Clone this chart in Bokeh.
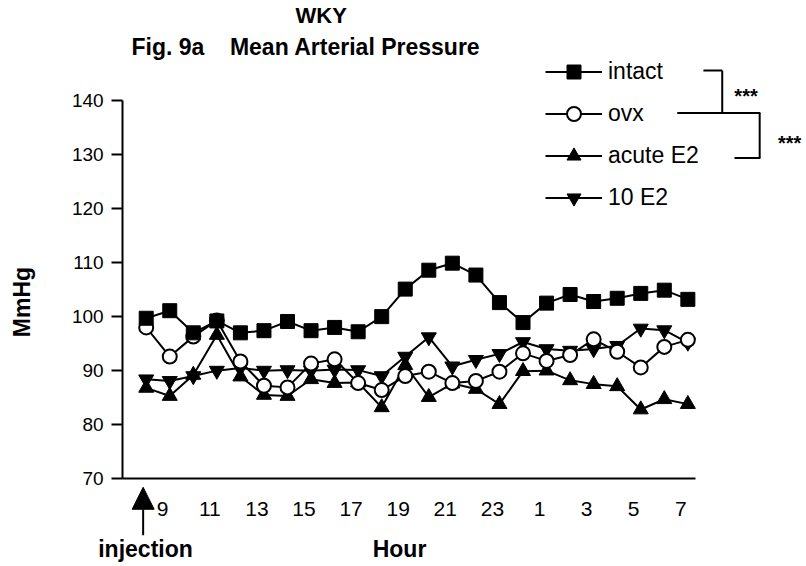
import math
from bokeh.plotting import figure
from bokeh.models import (FixedTicker, Legend, LegendItem, Label, Arrow, NormalHead, Range1d)
from bokeh.embed import file_html
from bokeh.resources import INLINE

# ---- data ----
hours = [8, 9, 10, 11, 12, 13, 14, 15, 16, 17, 18, 19, 20, 21, 22, 23,
         0, 1, 2, 3, 4, 5, 6, 7]
tick_hours = ["9", "11", "13", "15", "17", "19", "21", "23", "1", "3", "5", "7"]
intact = [99.7, 101.1, 97.0, 99.2, 97.0, 97.4, 99.1, 97.4, 98.0, 97.2, 100.0, 105.1,
          108.6, 109.9, 107.7, 102.6, 98.9, 102.5, 104.1, 102.8, 103.4, 104.3, 104.9, 103.2]
ovx = [98.0, 92.6, 96.3, 99.3, 91.7, 87.2, 86.9, 91.3, 92.1, 87.7, 86.4, 89.0,
       89.8, 87.7, 88.1, 89.8, 93.2, 91.8, 92.9, 95.8, 93.5, 90.6, 94.4, 95.7]
acute_e2 = [86.8, 85.3, 89.2, 96.6, 88.9, 85.5, 85.3, 88.4, 87.7, 87.8, 83.2, 91.0,
            85.1, 87.6, 86.6, 83.8, 89.9, 90.0, 88.2, 87.5, 87.1, 82.8, 84.7, 83.8]
ten_e2 = [88.4, 88.1, 89.0, 90.0, 90.5, 90.0, 90.1, 90.0, 90.2, 90.1, 89.0, 92.6,
          96.2, 90.8, 92.0, 93.1, 95.3, 94.0, 93.7, 94.0, 94.6, 97.8, 97.5, 95.2]
y_ticks = [70, 80, 90, 100, 110, 120, 130, 140]

idx = list(range(len(hours)))
FONT = "Liberation Sans"

p = figure(width=806, height=566, output_backend="svg", toolbar_location=None,
           x_range=Range1d(-6.187, 28.038), y_range=Range1d(53.729, 153.544),
           min_border_left=0, min_border_right=0, min_border_top=0, min_border_bottom=0,
           title="WKY")
p.background_fill_color = "white"
p.border_fill_color = "white"
p.outline_line_color = None
p.grid.visible = False

# title
p.title.align = "left"
p.title.offset = 295
p.title.text_font = FONT
p.title.text_font_size = "22px"
p.title.text_font_style = "bold"
p.title.text_color = "black"
p.title.standoff = 0
p.add_layout(Label(x=-0.624, y=150.0, text="Fig. 9a\u00a0\u00a0\u00a0\u00a0Mean Arterial Pressure",
                   text_font=FONT, text_font_size="23px", text_font_style="bold",
                   text_color="black", text_align="left", text_baseline="middle"))

# axes (drawn at fixed data locations so that they cross at (-1, 70))
ax = p.xaxis[0]
ax.fixed_location = 70
ax.ticker = FixedTicker(ticks=[round(i - 0.3, 1) for i in range(1, 24, 2)])
ax.major_label_overrides = {round(i - 0.3, 1): t for i, t in zip(range(1, 24, 2), tick_hours)}
ax.bounds = (-1, 23.32)
ax.axis_line_width = 2
ax.major_tick_line_color = None
ax.minor_tick_line_color = None
ax.major_label_standoff = 17
ax.major_label_text_font = FONT
ax.major_label_text_font_size = "21px"
ax.major_label_text_color = "black"

ay = p.yaxis[0]
ay.fixed_location = -1
ay.ticker = FixedTicker(ticks=y_ticks)
ay.bounds = (70, 140)
ay.axis_line_width = 2
ay.major_tick_line_width = 2
ay.major_tick_out = 11
ay.major_tick_in = 0
ay.minor_tick_line_color = None
ay.major_label_standoff = 8
ay.major_label_text_font = FONT
ay.major_label_text_font_size = "19px"
ay.major_label_text_color = "black"

p.add_layout(Label(x=10.756, y=56.88, text="Hour", text_font=FONT, text_font_size="23px",
                   text_font_style="bold", text_color="black", text_align="center",
                   text_baseline="middle"))
p.add_layout(Label(x=-5.253, y=102.7, text="MmHg", angle=math.pi / 2, text_font=FONT,
                   text_font_size="23px", text_font_style="bold", text_color="black",
                   text_align="center", text_baseline="middle"))

# series (drawn so that intact ends on top)
def series(vals, marker, size, fill):
    lr = p.line(idx, vals, line_color="black", line_width=2)
    sr = p.scatter(idx, vals, marker=marker, size=size, fill_color=fill,
                   line_color="black", line_width=2 if fill == "white" else 1)
    return [lr, sr]

r_ten = series(ten_e2, "inverted_triangle", 15, "black")
r_acute = series(acute_e2, "triangle", 15, "black")
r_ovx = series(ovx, "circle", 14, "white")
r_intact = series(intact, "square", 14, "black")

legend = Legend(items=[LegendItem(label="intact", renderers=r_intact),
                       LegendItem(label="ovx", renderers=r_ovx),
                       LegendItem(label="acute E2", renderers=r_acute),
                       LegendItem(label="10 E2", renderers=r_ten)],
                location=(545, 351.5), glyph_width=57, glyph_height=35, spacing=7,
                padding=0, margin=0, label_standoff=6, border_line_color=None,
                background_fill_alpha=0, label_text_font=FONT, label_text_color="black",
                label_text_font_size="23px", label_height=35)
p.add_layout(legend)

# significance brackets
segs = [((23.66, 145.57), (24.46, 145.57)),
        ((24.46, 145.57), (24.46, 137.72)),
        ((22.55, 137.72), (26.08, 137.72)),
        ((26.05, 137.72), (26.05, 129.37)),
        ((24.98, 129.37), (26.08, 129.37))]
for (xs, ys), (xe, ye) in segs:
    p.add_layout(Arrow(start=None, end=None, x_start=xs, y_start=ys, x_end=xe, y_end=ye,
                       line_color="black", line_width=2))
p.add_layout(Label(x=25.47, y=140.9, text="***", text_font=FONT, text_font_size="20px",
                   text_font_style="bold", text_color="black", text_align="center",
                   text_baseline="middle"))
p.add_layout(Label(x=27.32, y=132.1, text="***", text_font=FONT, text_font_size="20px",
                   text_font_style="bold", text_color="black", text_align="center",
                   text_baseline="middle"))

# injection marker
p.add_layout(Arrow(end=NormalHead(size=22, fill_color="black", line_color="black"),
                   x_start=-0.13, y_start=59.5, x_end=-0.13, y_end=68.4,
                   line_color="black", line_width=2))
p.add_layout(Label(x=-0.03, y=56.88, text="injection", text_font=FONT, text_font_size="23px",
                   text_font_style="bold", text_color="black", text_align="center",
                   text_baseline="middle"))

open("out.html", "w").write(file_html(p, INLINE))
